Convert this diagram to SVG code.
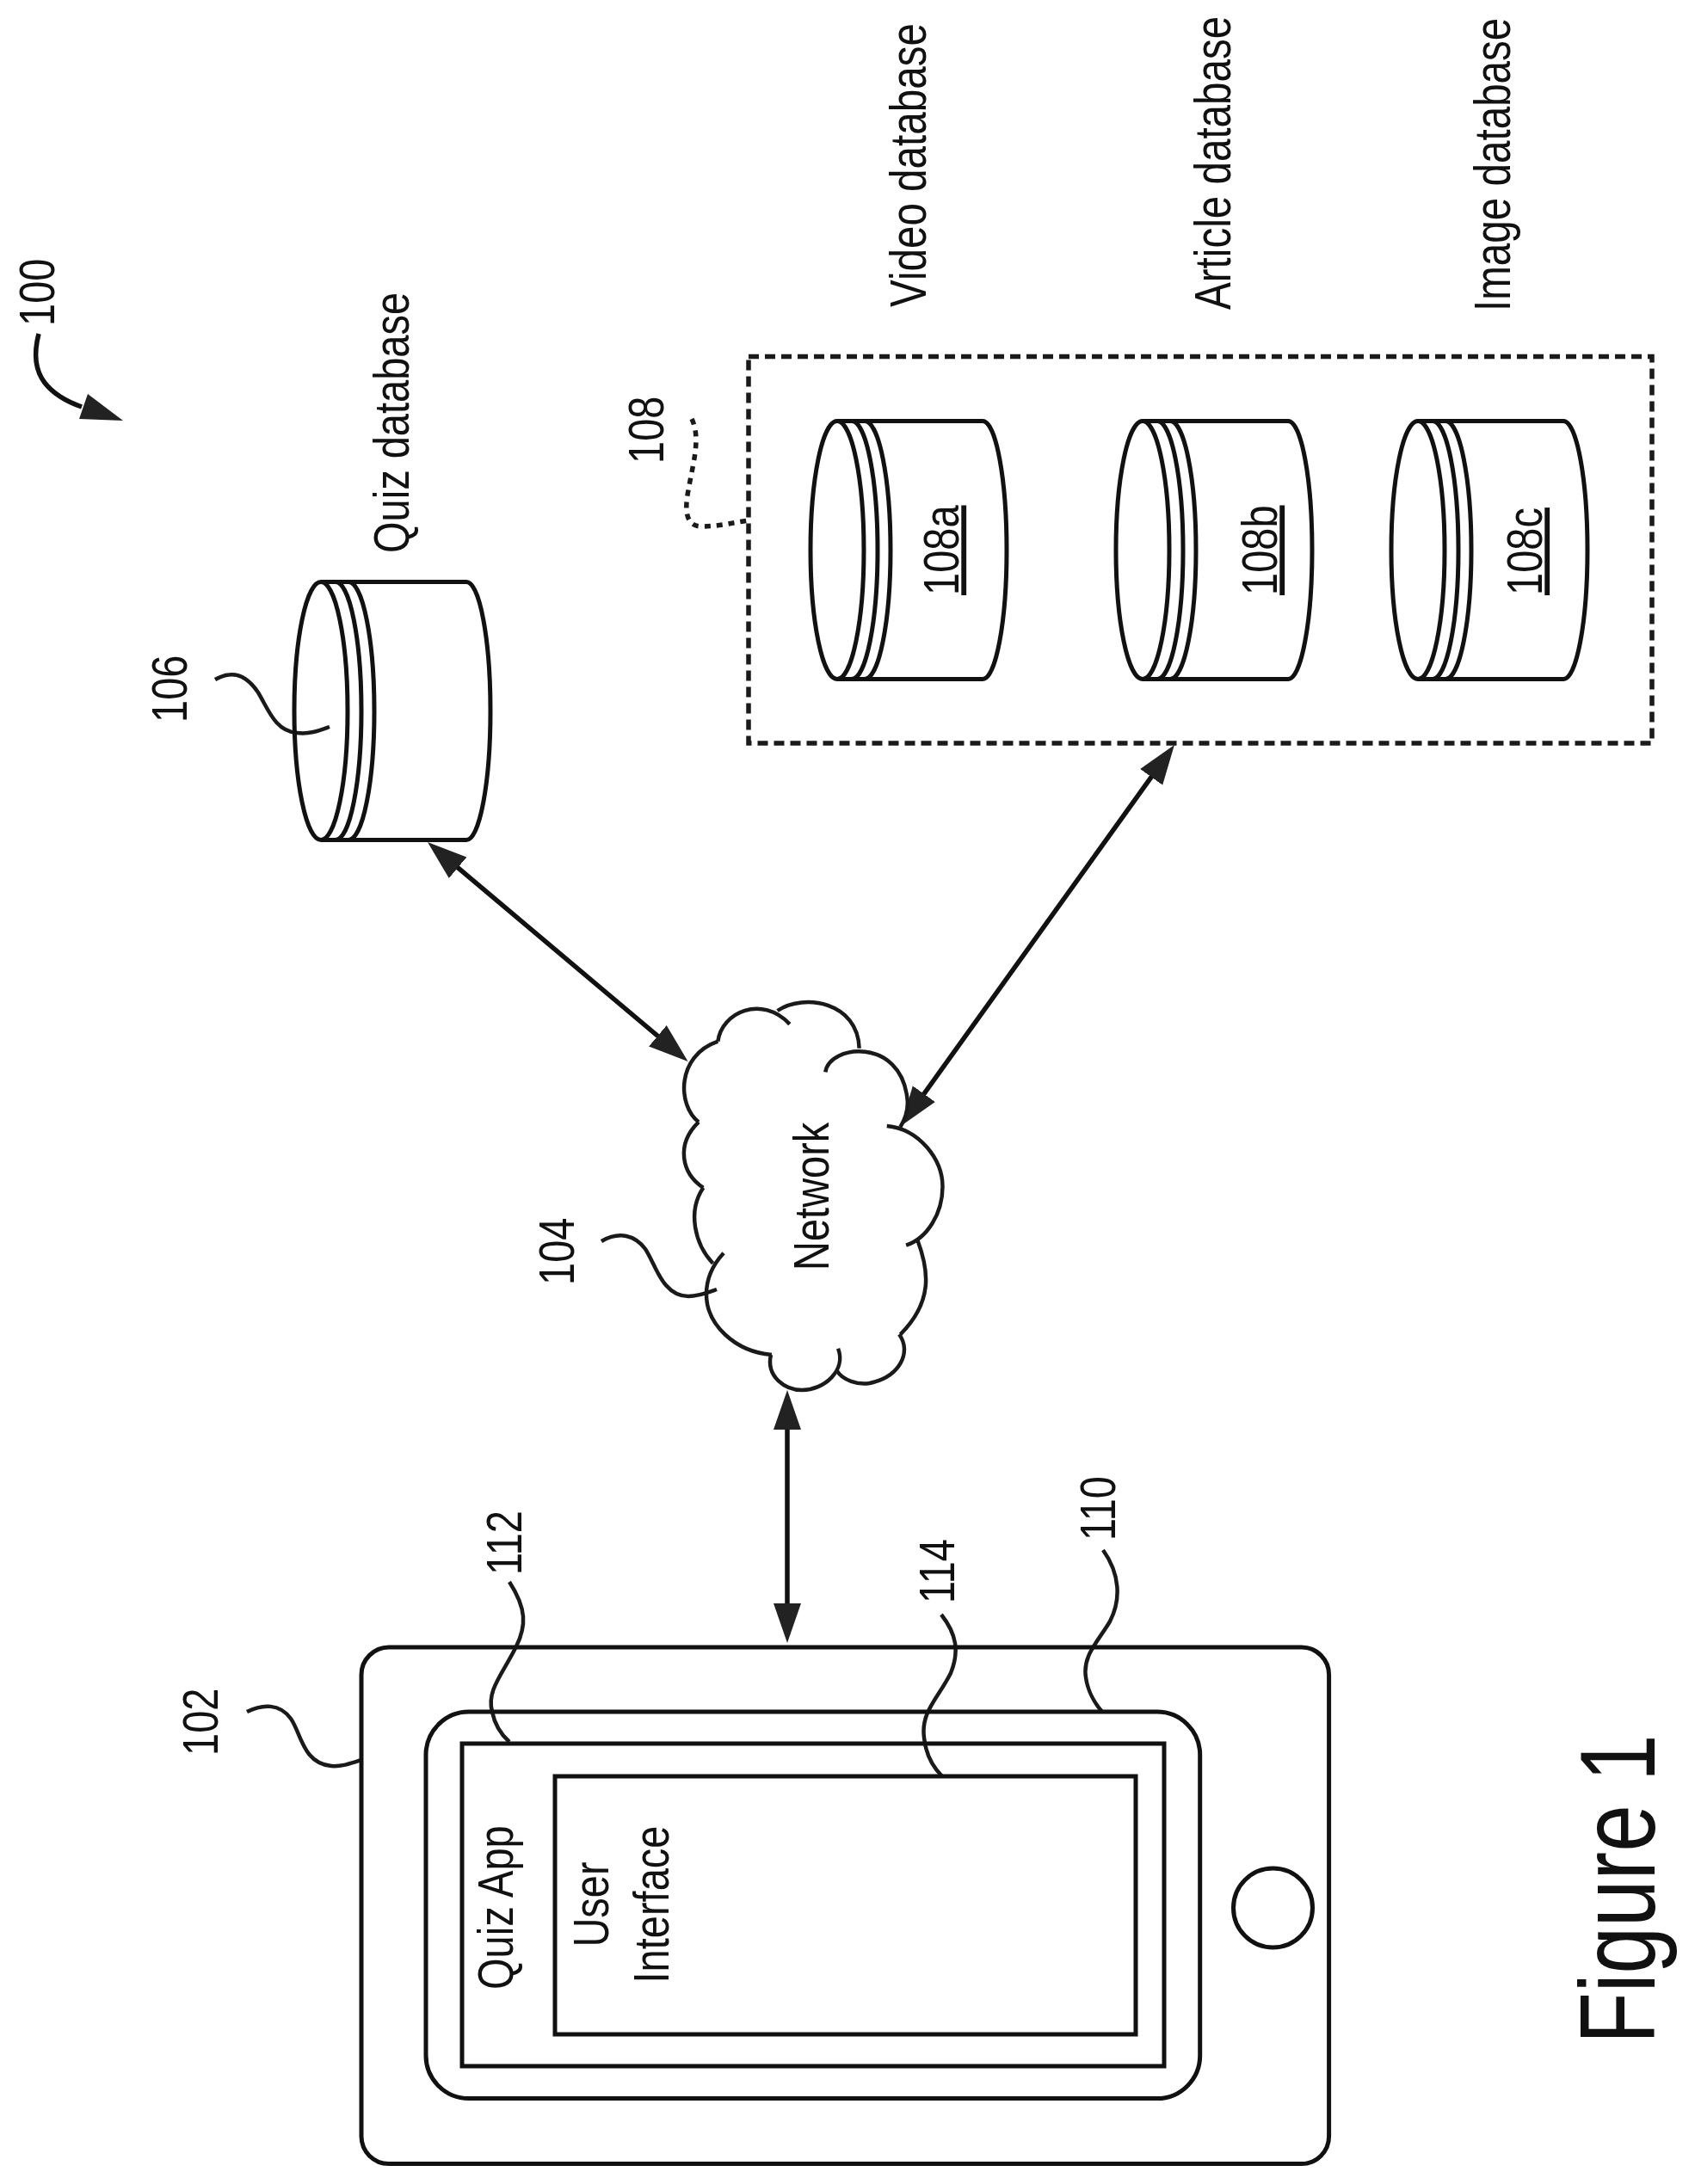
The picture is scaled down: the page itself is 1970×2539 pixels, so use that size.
<svg xmlns="http://www.w3.org/2000/svg" width="1970" height="2539" viewBox="0 0 1970 2539">
<style>
.s{fill:none;stroke:#111;stroke-width:5}
.l{fill:none;stroke:#1a1a1a;stroke-width:4.5}
.d{fill:none;stroke:#1a1a1a;stroke-width:5.5;stroke-dasharray:12 7}
.a{fill:none;stroke:#111;stroke-width:5.5}
.h{fill:#222;stroke:none}
text{font-family:"Liberation Sans",Arial,sans-serif;font-size:47px;fill:#111}
.b{font-size:47.6px}
.u{text-decoration:underline}
</style>
<defs>
<marker id="ah" markerUnits="userSpaceOnUse" markerWidth="50" markerHeight="36" viewBox="0 -18 50 36" refX="2" refY="0" orient="auto-start-reverse"><path class="h" d="M0,-16 L46,0 L0,16 Z"/></marker>
<g id="cyl" class="s">
<ellipse cx="0" cy="150" rx="31" ry="150"/>
<path d="M17,0 A30,150 0 0 1 17,300"/>
<path d="M32,0 A30,150 0 0 1 32,300"/>
<path d="M0,0 H169 A28,150 0 0 1 169,300 H0"/>
</g>
</defs>
<rect width="1970" height="2539" fill="#fff"/>

<g id="connectors">
<path class="a" d="M915,1660 V1866" marker-start="url(#ah)" marker-end="url(#ah)"/>
<path class="a" d="M530.6,1007.4 L765.9,1205.6" marker-start="url(#ah)" marker-end="url(#ah)"/>
<path class="a" d="M1339.3,901.7 L1072.7,1273.3" marker-start="url(#ah)" marker-end="url(#ah)"/>
<path class="a" d="M45,388 C38,415 42,432 52,445 C62,458 78,467 95,473"/>
<path class="h" d="M92,487 L102,458 L143,489 Z"/>
<path class="l" d="M250,790 C275,776 290,790 300,805 C312,825 320,850 345,852 C360,854 372,849 383,845"/>
<path class="d" style="stroke-dasharray:7 7" d="M804,487 C815,510 805,540 800,570 C795,595 798,612 815,612 C835,612 850,608 870,605"/>
<path class="l" d="M699,1443 C720,1431 738,1436 750,1452 C762,1470 770,1507 800,1507 C812,1507 822,1503 833,1499"/>
<path class="l" d="M287,1990 C305,1981 325,1980 338,1998 C350,2015 352,2050 385,2053 C397,2054 408,2050 420,2046"/>
<path class="l" d="M592,1839 C612,1870 612,1890 600,1914 C585,1945 565,1965 572,1990 C575,2005 583,2017 592,2025"/>
<path class="l" d="M1094,1877 C1112,1900 1115,1920 1105,1945 C1090,1975 1070,1990 1074,2020 C1076,2040 1085,2055 1095,2065"/>
<path class="l" d="M1282,1802 C1302,1830 1303,1860 1290,1885 C1275,1910 1258,1925 1262,1950 C1264,1965 1272,1980 1281,1990"/>
</g>

<g id="label-100"><text transform="translate(62.5,379) rotate(-90) scale(1,1.24)">100</text></g>

<g id="node-106">
<use href="#cyl" transform="translate(373,676.5)"/>
<text transform="translate(475,643) rotate(-90) scale(1,1.24)">Quiz database</text>
<text transform="translate(217,840) rotate(-90) scale(1,1.24)">106</text>
</g>

<g id="node-108">
<rect class="d" x="870" y="414.5" width="1050" height="449.5"/>
<text transform="translate(771,539) rotate(-90) scale(1,1.24)">108</text>
</g>
<g id="node-108a">
<use href="#cyl" transform="translate(973,489.5)"/>
<text class="b" transform="translate(1076,357) rotate(-90) scale(1,1.24)">Video database</text>
<text class="u" transform="translate(1114,692) rotate(-90) scale(1,1.24)">108a</text>
</g>
<g id="node-108b">
<use href="#cyl" transform="translate(1328,489.5)"/>
<text class="b" transform="translate(1430,360) rotate(-90) scale(1,1.24)">Article database</text>
<text class="u" transform="translate(1484,692) rotate(-90) scale(1,1.24)">108b</text>
</g>
<g id="node-108c">
<use href="#cyl" transform="translate(1648,489.5)"/>
<text class="b" transform="translate(1754.5,362) rotate(-90) scale(1,1.24)">Image database</text>
<text class="u" transform="translate(1792,692) rotate(-90) scale(1,1.24)">108c</text>
</g>

<g id="node-104">
<g transform="translate(600,1000) scale(.4464)" style="fill:none;stroke:#1a1a1a;stroke-width:10">
<path d="M525,472 C535,395 640,350 712,427"/>
<path d="M680,392 C750,345 890,370 893,490"/>
<path d="M805,552 C815,480 1000,460 1018,620 C1022,650 1012,675 1000,695"/>
<path d="M965,692 C1050,700 1110,780 1110,850 C1110,920 1070,985 1015,1003"/>
<path d="M1045,990 C1075,1070 1085,1150 1000,1235"/>
<path d="M997,1235 C1030,1280 1000,1345 920,1362 C890,1367 850,1355 835,1330"/>
<path d="M838,1272 C860,1330 800,1380 745,1380 C700,1380 650,1345 663,1288"/>
<path d="M665,1288 C570,1280 495,1210 495,1130 C495,1085 515,1050 540,1023"/>
<path d="M512,1050 C465,1000 445,915 487,853"/>
<path d="M487,853 C430,815 415,740 475,682"/>
<path d="M475,682 C420,640 415,510 525,472"/>
</g>
<text transform="translate(962.5,1477) rotate(-90) scale(1,1.24)">Network</text>
<text transform="translate(667,1494) rotate(-90) scale(1,1.24)">104</text>
</g>

<g id="node-102">
<rect class="s" x="420" y="1915" width="1124.6" height="600.6" rx="32" ry="32"/>
<circle class="s" cx="1479.5" cy="2218" r="46"/>
<text transform="translate(253,2041) rotate(-90) scale(1,1.24)">102</text>
</g>
<g id="node-110">
<rect class="s" x="495" y="1990" width="899.7" height="449.6" rx="50" ry="50"/>
<text transform="translate(1296,1791) rotate(-90) scale(1,1.24)">110</text>
</g>
<g id="node-112">
<rect class="s" x="537" y="2027" width="816" height="375"/>
<text transform="translate(596,2313) rotate(-90) scale(1,1.24)">Quiz App</text>
<text transform="translate(606,1831) rotate(-90) scale(1,1.24)">112</text>
</g>
<g id="node-114">
<rect class="s" x="645" y="2065" width="675" height="300"/>
<text transform="translate(707,2214) rotate(-90) scale(1,1.24)" text-anchor="middle">User</text>
<text transform="translate(777,2214) rotate(-90) scale(1,1.24)" text-anchor="middle">Interface</text>
<text transform="translate(1109,1864) rotate(-90) scale(1,1.24)">114</text>
</g>

<g id="figure-label"><text transform="translate(1923,2376) rotate(-90) scale(1,1.27)" style="font-size:98px">Figure 1</text></g>
</svg>
